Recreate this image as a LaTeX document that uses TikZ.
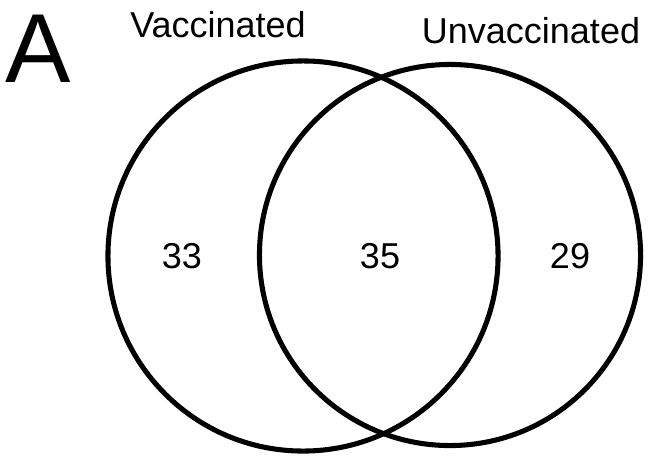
\documentclass[tikz,border=0pt]{standalone}
\usepackage{fontspec}
\setmainfont{Liberation Sans}
\usepackage{tikz}

\begin{document}
\begin{tikzpicture}[
			x=0.025cm, y=-0.025cm,
			lingkar/.style={draw, circle, line width=3.6pt, inner sep=0pt},
			label/.style={inner sep=0pt, font=\fontsize{25.6}{30}\selectfont},
			huruf/.style={inner sep=0pt, anchor=base, font=\fontsize{69.7}{80}\selectfont}
		]
		\useasboundingbox (0,0) rectangle (649,455);

		% Lingkaran
		\node[lingkar, minimum size=9.75cm] (vacc) at (303,256) {};
		\node[lingkar, minimum size=9.525cm] (unvacc) at (450,255) {};

		% Judul
		\node[huruf] (panel) at (38,82) {A};
		\node[label, anchor=base] (tvacc) at (218,37) {Vaccinated};
		\node[label, anchor=base] (tunvacc) at (531,43) {Unvaccinated};

		% Angka
		\node[label] (kiri) at (182,256) {33};
		\node[label] (tengah) at (380,256) {35};
		\node[label] (kanan) at (570,256) {29};
	\end{tikzpicture}
\end{document}
